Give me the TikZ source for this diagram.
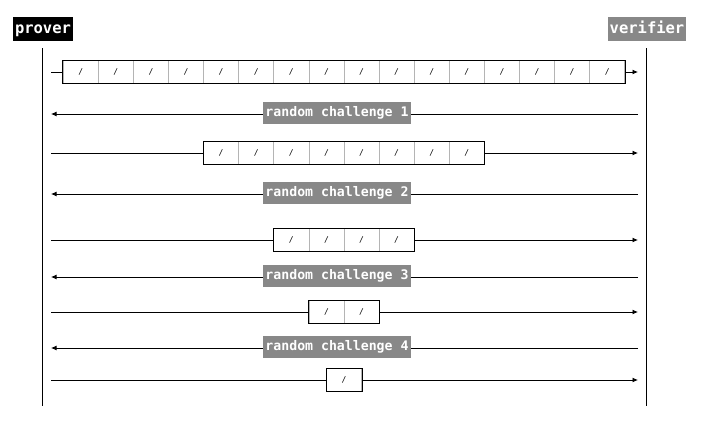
\documentclass[tikz,border=0pt]{standalone}
\usepackage{fontspec}
\setmonofont{DejaVu Sans Mono}
\usepackage{tikz}
\usetikzlibrary{arrows.meta, positioning}

\definecolor{labelgray}{RGB}{136,136,136}
\definecolor{celldiv}{RGB}{180,180,180}

\tikzset{
    party/.style={fill=#1, text=white, font=\ttfamily\bfseries\fontsize{15.5}{17}\selectfont,
        inner xsep=2pt, inner ysep=5.5pt, text height=11.5pt, text depth=1.5pt},
    challenge/.style={fill=labelgray, text=white, font=\ttfamily\bfseries\fontsize{13.2}{15}\selectfont,
        inner xsep=2pt, inner ysep=5pt, text height=10.3pt, text depth=1.7pt},
    cell/.style={draw=celldiv, line width=0.8pt, minimum width=35.1pt, minimum height=23pt,
        inner sep=0pt, font=\ttfamily\fontsize{8}{9}\selectfont},
    frame/.style={draw=black, line width=0.9pt},
    msg/.style={line width=0.9pt, -{Latex[length=5.5pt, width=5pt]}},
    life/.style={line width=0.9pt}
}

\begin{document}
\begin{tikzpicture}[x=1pt, y=-1pt]
    \useasboundingbox (0,0) rectangle (702,423);

    % Parties
    \node[party=black] (prover) at (43,29) {prover};
    \node[party=labelgray] (verifier) at (647,29) {verifier};

    % Lifelines
    \coordinate (ptop) at (42.5,48);
    \coordinate (pbot) at (42.5,406);
    \coordinate (vtop) at (646.5,48);
    \coordinate (vbot) at (646.5,406);
    \draw[life] (ptop) -- (pbot);
    \draw[life] (vtop) -- (vbot);

    % Prover messages (strips of cells, halving each round)
    \foreach \n/\y/\s in {16/72/a, 8/153/b, 4/240/c, 2/312/d, 1/380/e} {
        \foreach \i in {1,...,\n} {
            \node[cell] (\s\i) at ({344 + (\i - (\n+1)/2)*35.1}, \y) {/};
        }
        \draw[frame] (\s1.north west) rectangle (\s\n.south east);
        \coordinate (p\s) at (51,\y);
        \coordinate (v\s) at (638,\y);
        \draw[life] (p\s) -- (\s1.west);
        \draw[msg] (\s\n.east) -- (v\s);
    }

    % Verifier challenges
    \foreach \k/\y in {1/114, 2/194, 3/277, 4/348} {
        \coordinate (cv\k) at (638,\y);
        \coordinate (cp\k) at (51,\y);
        \draw[msg] (cv\k) -- (cp\k);
        \node[challenge] (ch\k) at (337,\y-1.5) {random challenge \k};
    }
\end{tikzpicture}
\end{document}
